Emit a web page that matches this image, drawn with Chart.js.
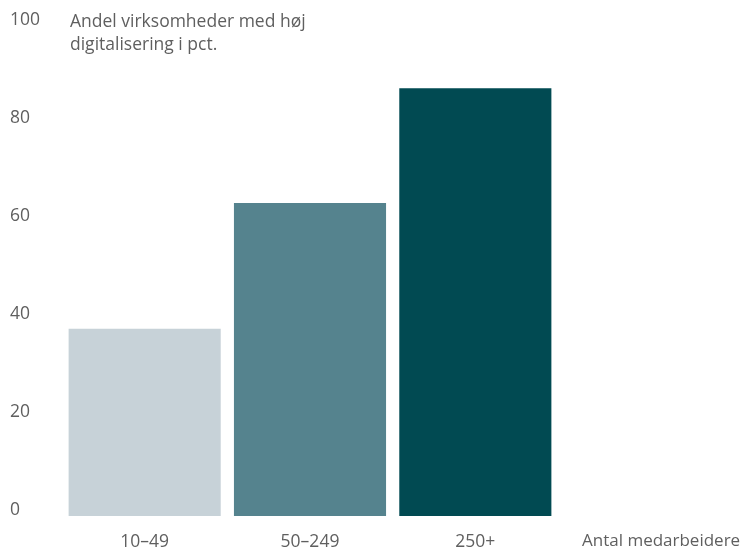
<!DOCTYPE html>
<html>
<head>
<meta charset="utf-8">
<script src="https://cdn.jsdelivr.net/npm/chart.js@4/dist/chart.umd.min.js"></script>
<style>
  html, body { margin: 0; padding: 0; background: #fff; }
  #wrap { width: 742px; height: 548px; }
</style>
</head>
<body>
<div id="wrap"><canvas id="digiChart"></canvas></div>
<script>
// Data
const categories = ['10–49', '50–249', '250+'];
const shares = [38.2, 63.9, 87.3];
const barColors = ['#c7d2d8', '#55838e', '#014a52'];
const yTicks = [0, 20, 40, 60, 80, 100];
const yTitle = ['Andel virksomheder med høj', 'digitalisering i pct.'];
const xTitle = 'Antal medarbeidere';

const FONT = '"Open Sans", Lato, sans-serif';
const TEXT = '#5f5f5f';

// Title lines and x-axis caption, drawn next to the axes
const captions = {
    id: 'captions',
    afterDraw(chart) {
        const c = chart.ctx;
        const x = chart.scales.x;
        c.save();
        c.fillStyle = TEXT;
        c.textAlign = 'left';
        c.font = '17.5px ' + FONT;
        c.textBaseline = 'alphabetic';
        c.fillText(yTitle[0], chart.chartArea.left + 8, 26.5);
        c.fillText(yTitle[1], chart.chartArea.left + 8, 50);
        c.font = '17px ' + FONT;
        c.textBaseline = 'middle';
        c.fillText(xTitle, chart.chartArea.right + 24, x.top + 25);
        c.restore();
    }
};

const ctx = document.getElementById('digiChart').getContext('2d');
const digiChart = new Chart(ctx, {
    type: 'bar',
    data: {
        labels: categories,
        datasets: [{
            data: shares,
            backgroundColor: barColors,
            barPercentage: 0.92,
            categoryPercentage: 1
        }]
    },
    options: {
        responsive: true,
        maintainAspectRatio: false,
        animation: false,
        layout: { padding: { left: 10, right: 184, top: 26, bottom: 0 } },
        plugins: {
            legend: { display: false },
            tooltip: { enabled: false }
        },
        scales: {
            x: {
                grid: { display: false, drawTicks: false },
                border: { display: false },
                ticks: { color: TEXT, font: { family: FONT, size: 17.5 }, padding: 16 },
                afterFit: s => { s.height = 32; }
            },
            y: {
                min: 0,
                max: 100,
                afterBuildTicks: s => { s.ticks = yTicks.map(v => ({ value: v })); },
                grid: { display: false, drawTicks: false },
                border: { display: false },
                ticks: {
                    color: TEXT,
                    font: { family: FONT, size: 17.5 },
                    crossAlign: 'far',
                    labelOffset: -6
                },
                afterFit: s => { s.width = 52; }
            }
        }
    },
    plugins: [captions]
});
</script>
</body>
</html>
